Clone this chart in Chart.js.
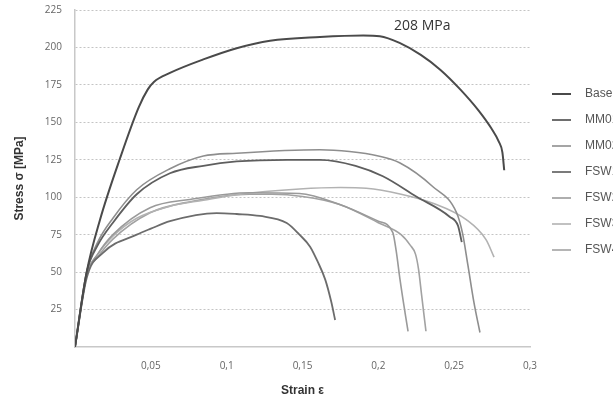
<!DOCTYPE html>
<html>
<head>
<meta charset="utf-8">
<script src="https://cdn.jsdelivr.net/npm/chart.js@4/dist/chart.umd.min.js"></script>
<style>
html,body{margin:0;padding:0;overflow:hidden;background:#fff;width:613px;height:402px}
#wrap{position:absolute;left:0;top:0;width:653px;height:402px}
</style>
</head>
<body>
<div id="wrap"><canvas id="c" width="653" height="402"></canvas></div>
<script>
// ---- data (strain, stress MPa) ----
const seriesLabels = ['Base material', 'MM01', 'MM02', 'FSW1', 'FSW2', 'FSW3', 'FSW4'];
const seriesColors = ['#4a4a4a', '#5e5e5e', '#8e8e8e', '#6c6c6c', '#9a9a9a', '#b2b2b2', '#a2a2a2'];

const baseX = [0, 0.0077, 0.0165, 0.0297, 0.042, 0.048, 0.052, 0.0626, 0.0846, 0.1066, 0.1286, 0.1615, 0.19, 0.201, 0.214, 0.228, 0.241, 0.254, 0.266, 0.2745, 0.2795, 0.2818, 0.283];
const baseY = [0, 50, 85, 126, 160, 172, 177, 183, 192, 199.5, 204.5, 207, 208, 207.5, 203, 195, 185, 172, 158, 146, 137, 130, 118];

const mm1X = [0, 0.0077, 0.015, 0.025, 0.0407, 0.0626, 0.0846, 0.1066, 0.14, 0.1615, 0.185, 0.203, 0.225, 0.247, 0.2525, 0.255];
const mm1Y = [0, 50, 68, 83, 102, 116, 121, 123.9, 125, 125, 121, 114, 100.5, 87, 81, 70];

const mm2X = [0, 0.0077, 0.015, 0.025, 0.0407, 0.0626, 0.0846, 0.1066, 0.1615, 0.181, 0.2, 0.214, 0.236, 0.2516, 0.2555, 0.259, 0.263, 0.267];
const mm2Y = [0, 50, 70, 86, 105, 119, 127.5, 129.4, 131.7, 130.5, 127.5, 123, 107, 89.6, 76, 55, 30, 9.7];

const fsw1X = [0, 0.0077, 0.0186, 0.0407, 0.05, 0.0626, 0.0934, 0.1066, 0.122, 0.1396, 0.148, 0.155, 0.16, 0.165, 0.169, 0.1715];
const fsw1Y = [0, 46, 63, 75, 79, 84, 89.4, 88.8, 87.5, 82.8, 75, 67, 57, 45, 30, 18];

const fsw2X = [0, 0.0077, 0.015, 0.025, 0.0495, 0.0758, 0.115, 0.148, 0.175, 0.2, 0.2095, 0.2118, 0.2143, 0.2176, 0.2196];
const fsw2Y = [0, 48, 62, 75, 93, 98.5, 103, 102.5, 95, 84, 76.5, 64, 45, 23, 10.5];

const fsw3X = [0, 0.0077, 0.015, 0.025, 0.0407, 0.0626, 0.0846, 0.1066, 0.148, 0.175, 0.192, 0.215, 0.236, 0.258, 0.271, 0.2763];
const fsw3Y = [0, 48, 62, 74, 86, 94, 98, 101.7, 105.5, 106.5, 106, 102, 96, 85, 71.7, 60];

const fsw4X = [0, 0.0077, 0.015, 0.025, 0.0495, 0.0758, 0.115, 0.13, 0.15, 0.175, 0.2, 0.215, 0.221, 0.2245, 0.2265, 0.2285, 0.2314];
const fsw4Y = [0, 48, 60, 72, 89.6, 97, 102, 102, 100.5, 95, 83, 75, 68, 62, 52, 35, 10.5];

const seriesX = [baseX, mm1X, mm2X, fsw1X, fsw2X, fsw3X, fsw4X];
const seriesY = [baseY, mm1Y, mm2Y, fsw1Y, fsw2Y, fsw3Y, fsw4Y];
const seriesWidths = [2, 1.8, 1.6, 1.8, 1.6, 1.6, 1.6];

const xTickValues = [0.05, 0.1, 0.15, 0.2, 0.25, 0.3];
const xTickLabels = ['0,05', '0,1', '0,15', '0,2', '0,25', '0,3'];
const yTickValues = [25, 50, 75, 100, 125, 150, 175, 200, 225];
const yTickLabels = ['25', '50', '75', '100', '125', '150', '175', '200', '225'];

const peakText = '208 MPa';
const peakAt = {x: 0.229, y: 214};

const legendNudge = {x: 8, y: -34};

// ---- chart ----
const datasets = seriesLabels.map((lab, i) => ({
  label: lab,
  data: seriesX[i].map((x, j) => ({x: x, y: seriesY[i][j]})),
  showLine: true,
  borderColor: seriesColors[i],
  backgroundColor: seriesColors[i],
  borderWidth: seriesWidths[i],
  pointRadius: 0,
  pointHoverRadius: 0,
  cubicInterpolationMode: 'monotone',
  fill: false
}));

// legend swatch: short line followed by a gap
function makeSwatch(color, width) {
  const cv = document.createElement('canvas');
  cv.width = 27; cv.height = 6;
  const g = cv.getContext('2d');
  g.strokeStyle = color; g.lineWidth = width;
  g.beginPath(); g.moveTo(0, 3); g.lineTo(19, 3); g.stroke();
  return cv;
}

const annotate = {
  id: 'annotate',
  afterLayout(chart) {
    const lg = chart.legend;
    if (lg) { lg.left += legendNudge.x; lg.right += legendNudge.x; lg.top += legendNudge.y; lg.bottom += legendNudge.y; }
  },
  afterDatasetsDraw(chart) {
    const {ctx, scales: {x, y}} = chart;
    ctx.save();
    ctx.font = '14px "Open Sans"';
    ctx.fillStyle = '#333';
    ctx.textAlign = 'center';
    ctx.textBaseline = 'middle';
    ctx.fillText(peakText, x.getPixelForValue(peakAt.x), y.getPixelForValue(peakAt.y));
    ctx.restore();
  }
};

new Chart(document.getElementById('c'), {
  type: 'scatter',
  data: {datasets},
  plugins: [annotate],
  options: {
    responsive: false,
    animation: false,
    layout: {padding: {top: 10, right: 0, left: 0, bottom: 0}},
    plugins: {
      tooltip: {enabled: false},
      legend: {
        position: 'right',
        align: 'center',
        maxWidth: 123,
        labels: {
          usePointStyle: true,
          pointStyleWidth: 27,
          boxHeight: 12,
          padding: 14,
          color: '#555',
          font: {family: '"Liberation Sans", Arial, sans-serif', size: 12},
          generateLabels(chart) {
            const items = Chart.defaults.plugins.legend.labels.generateLabels(chart);
            items.forEach((it, i) => { it.pointStyle = makeSwatch(seriesColors[i], seriesWidths[i]); });
            return items;
          }
        }
      }
    },
    scales: {
      x: {
        type: 'linear',
        min: 0, max: 0.3,
        afterBuildTicks: s => { s.ticks = xTickValues.map(v => ({value: v})); },
        afterFit: s => { s.height = 55; },
        ticks: {
          color: '#666',
          font: {family: '"Open Sans", sans-serif', size: 10},
          padding: 13,
          maxRotation: 0,
          autoSkip: false,
          callback: (v, i) => xTickLabels[i]
        },
        grid: {display: false, drawTicks: false},
        border: {display: true, color: '#c8c8c8', width: 1.5},
        title: {
          display: true,
          text: 'Strain ε',
          color: '#333',
          font: {family: '"Liberation Sans", Arial, sans-serif', size: 12, weight: 'bold'},
          padding: {top: 0, bottom: 4}
        }
      },
      y: {
        type: 'linear',
        min: 0, max: 225,
        afterBuildTicks: s => { s.ticks = yTickValues.map(v => ({value: v})); },
        afterFit: s => { s.width = 75; s.paddingTop = 0; s.paddingBottom = 0; },
        ticks: {
          color: '#666',
          font: {family: '"Open Sans", sans-serif', size: 10},
          padding: 13,
          autoSkip: false,
          callback: (v, i) => yTickLabels[i]
        },
        grid: {display: true, drawTicks: false, color: '#c4c4c4', lineWidth: 1},
        border: {display: true, color: '#c8c8c8', width: 1.5, dash: [2, 2]},
        title: {
          display: true,
          text: 'Stress σ [MPa]',
          color: '#333',
          font: {family: '"Liberation Sans", Arial, sans-serif', size: 12, weight: 'bold'},
          padding: {top: 12, bottom: 0}
        }
      }
    }
  }
});
</script>
</body>
</html>
